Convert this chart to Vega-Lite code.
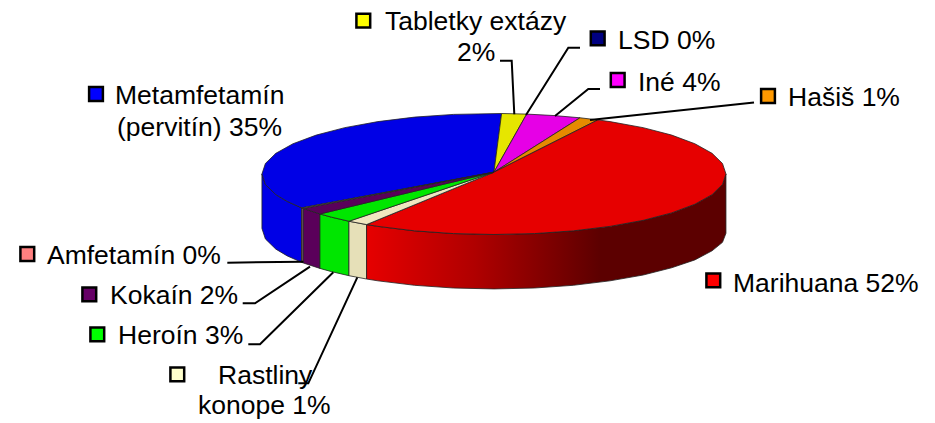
{"$schema":"https://vega.github.io/schema/vega-lite/v6.json","width":935,"height":423,"padding":0,"autosize":"none","background":"white","view":{"stroke":null},
"datasets":{
"top":[
{"s":"Metamfetamín","o":0,"u":0,"v":0.03},{"s":"Metamfetamín","o":1,"u":-0.829,"v":-0.56},{"s":"Metamfetamín","o":2,"u":-0.891,"v":-0.454},{"s":"Metamfetamín","o":3,"u":-0.94,"v":-0.342},{"s":"Metamfetamín","o":4,"u":-0.985,"v":-0.174},{"s":"Metamfetamín","o":5,"u":-1,"v":0},{"s":"Metamfetamín","o":6,"u":-0.985,"v":0.174},{"s":"Metamfetamín","o":7,"u":-0.94,"v":0.342},{"s":"Metamfetamín","o":8,"u":-0.866,"v":0.5},{"s":"Metamfetamín","o":9,"u":-0.766,"v":0.643},{"s":"Metamfetamín","o":10,"u":-0.643,"v":0.766},{"s":"Metamfetamín","o":11,"u":-0.5,"v":0.866},{"s":"Metamfetamín","o":12,"u":-0.342,"v":0.94},{"s":"Metamfetamín","o":13,"u":-0.174,"v":0.985},{"s":"Metamfetamín","o":14,"u":0.033,"v":1},{"s":"Metamfetamín","o":15,"u":0,"v":0.03},
{"s":"Tabletky","o":0,"u":0,"v":0.03},{"s":"Tabletky","o":1,"u":0.033,"v":1},{"s":"Tabletky","o":2,"u":0.141,"v":0.99},{"s":"Tabletky","o":3,"u":0,"v":0.03},
{"s":"Iné","o":0,"u":0,"v":0.03},{"s":"Iné","o":1,"u":0.141,"v":0.99},{"s":"Iné","o":2,"u":0.259,"v":0.966},{"s":"Iné","o":3,"u":0.371,"v":0.929},{"s":"Iné","o":4,"u":0,"v":0.03},
{"s":"Hašiš","o":0,"u":0,"v":0.03},{"s":"Hašiš","o":1,"u":0.371,"v":0.929},{"s":"Hašiš","o":2,"u":0.448,"v":0.894},{"s":"Hašiš","o":3,"u":0,"v":0.03},
{"s":"Marihuana","o":0,"u":0,"v":0.03},{"s":"Marihuana","o":1,"u":0.448,"v":0.894},{"s":"Marihuana","o":2,"u":0.5,"v":0.866},{"s":"Marihuana","o":3,"u":0.643,"v":0.766},{"s":"Marihuana","o":4,"u":0.766,"v":0.643},{"s":"Marihuana","o":5,"u":0.866,"v":0.5},{"s":"Marihuana","o":6,"u":0.94,"v":0.342},{"s":"Marihuana","o":7,"u":0.985,"v":0.174},{"s":"Marihuana","o":8,"u":1,"v":0},{"s":"Marihuana","o":9,"u":0.985,"v":-0.174},{"s":"Marihuana","o":10,"u":0.94,"v":-0.342},{"s":"Marihuana","o":11,"u":0.866,"v":-0.5},{"s":"Marihuana","o":12,"u":0.766,"v":-0.643},{"s":"Marihuana","o":13,"u":0.643,"v":-0.766},{"s":"Marihuana","o":14,"u":0.5,"v":-0.866},{"s":"Marihuana","o":15,"u":0.342,"v":-0.94},{"s":"Marihuana","o":16,"u":0.174,"v":-0.985},{"s":"Marihuana","o":17,"u":0,"v":-1},{"s":"Marihuana","o":18,"u":-0.174,"v":-0.985},{"s":"Marihuana","o":19,"u":-0.342,"v":-0.94},{"s":"Marihuana","o":20,"u":-0.5,"v":-0.866},{"s":"Marihuana","o":21,"u":-0.549,"v":-0.836},{"s":"Marihuana","o":22,"u":0,"v":0.03},
{"s":"Rastliny","o":0,"u":0,"v":0.03},{"s":"Rastliny","o":1,"u":-0.549,"v":-0.836},{"s":"Rastliny","o":2,"u":-0.625,"v":-0.781},{"s":"Rastliny","o":3,"u":0,"v":0.03},
{"s":"Heroín","o":0,"u":0,"v":0.03},{"s":"Heroín","o":1,"u":-0.625,"v":-0.781},{"s":"Heroín","o":2,"u":-0.7,"v":-0.714},{"s":"Heroín","o":3,"u":-0.75,"v":-0.661},{"s":"Heroín","o":4,"u":0,"v":0.03},
{"s":"Kokaín","o":0,"u":0,"v":0.03},{"s":"Kokaín","o":1,"u":-0.75,"v":-0.661},{"s":"Kokaín","o":2,"u":-0.822,"v":-0.57},{"s":"Kokaín","o":3,"u":0,"v":0.03},
{"s":"Amfetamín","o":0,"u":0,"v":0.03},{"s":"Amfetamín","o":1,"u":-0.822,"v":-0.57},{"s":"Amfetamín","o":2,"u":-0.829,"v":-0.56},{"s":"Amfetamín","o":3,"u":0,"v":0.03}
],
"walls":[
{"s":"Metamfetamín","o":0,"u":-1,"v":0},{"s":"Metamfetamín","o":1,"u":-0.985,"v":-0.174},{"s":"Metamfetamín","o":2,"u":-0.94,"v":-0.342},{"s":"Metamfetamín","o":3,"u":-0.891,"v":-0.454},{"s":"Metamfetamín","o":4,"u":-0.829,"v":-0.56},{"s":"Metamfetamín","o":5,"u":-0.829,"v":-1.46},{"s":"Metamfetamín","o":6,"u":-0.891,"v":-1.354},{"s":"Metamfetamín","o":7,"u":-0.94,"v":-1.242},{"s":"Metamfetamín","o":8,"u":-0.985,"v":-1.074},{"s":"Metamfetamín","o":9,"u":-1,"v":-0.9},{"s":"Metamfetamín","o":10,"u":-1,"v":0},
{"s":"Amfetamín","o":0,"u":-0.829,"v":-0.56},{"s":"Amfetamín","o":1,"u":-0.822,"v":-0.57},{"s":"Amfetamín","o":2,"u":-0.822,"v":-1.47},{"s":"Amfetamín","o":3,"u":-0.829,"v":-1.46},{"s":"Amfetamín","o":4,"u":-0.829,"v":-0.56},
{"s":"Kokaín","o":0,"u":-0.822,"v":-0.57},{"s":"Kokaín","o":1,"u":-0.75,"v":-0.661},{"s":"Kokaín","o":2,"u":-0.75,"v":-1.561},{"s":"Kokaín","o":3,"u":-0.822,"v":-1.47},{"s":"Kokaín","o":4,"u":-0.822,"v":-0.57},
{"s":"Heroín","o":0,"u":-0.75,"v":-0.661},{"s":"Heroín","o":1,"u":-0.7,"v":-0.714},{"s":"Heroín","o":2,"u":-0.625,"v":-0.781},{"s":"Heroín","o":3,"u":-0.625,"v":-1.681},{"s":"Heroín","o":4,"u":-0.7,"v":-1.614},{"s":"Heroín","o":5,"u":-0.75,"v":-1.561},{"s":"Heroín","o":6,"u":-0.75,"v":-0.661},
{"s":"Rastliny","o":0,"u":-0.625,"v":-0.781},{"s":"Rastliny","o":1,"u":-0.549,"v":-0.836},{"s":"Rastliny","o":2,"u":-0.549,"v":-1.736},{"s":"Rastliny","o":3,"u":-0.625,"v":-1.681},{"s":"Rastliny","o":4,"u":-0.625,"v":-0.781}
],
"redwall":[
{"o":0,"u":-0.549,"v":-0.836},{"o":1,"u":-0.5,"v":-0.866},{"o":2,"u":-0.342,"v":-0.94},{"o":3,"u":-0.174,"v":-0.985},{"o":4,"u":0,"v":-1},{"o":5,"u":0.174,"v":-0.985},{"o":6,"u":0.342,"v":-0.94},{"o":7,"u":0.5,"v":-0.866},{"o":8,"u":0.643,"v":-0.766},{"o":9,"u":0.766,"v":-0.643},{"o":10,"u":0.866,"v":-0.5},{"o":11,"u":0.94,"v":-0.342},{"o":12,"u":0.985,"v":-0.174},{"o":13,"u":1,"v":0},{"o":14,"u":1,"v":-0.98},{"o":15,"u":0.985,"v":-1.13},{"o":16,"u":0.94,"v":-1.27},{"o":17,"u":0.866,"v":-1.42},{"o":18,"u":0.766,"v":-1.55},{"o":19,"u":0.643,"v":-1.67},{"o":20,"u":0.5,"v":-1.766},{"o":21,"u":0.342,"v":-1.84},{"o":22,"u":0.174,"v":-1.885},{"o":23,"u":0,"v":-1.9},{"o":24,"u":-0.174,"v":-1.885},{"o":25,"u":-0.342,"v":-1.84},{"o":26,"u":-0.5,"v":-1.766},{"o":27,"u":-0.549,"v":-1.736},{"o":28,"u":-0.549,"v":-0.836}
],
"leaders":[
{"s":"Tabletky","o":0,"x":500,"y":60.7},{"s":"Tabletky","o":1,"x":511.7,"y":60.7},{"s":"Tabletky","o":2,"x":514.3,"y":114.3},
{"s":"LSD","o":0,"x":580,"y":47.7},{"s":"LSD","o":1,"x":568.3,"y":47.7},{"s":"LSD","o":2,"x":526,"y":115},
{"s":"Iné","o":0,"x":600,"y":89},{"s":"Iné","o":1,"x":588.3,"y":89},{"s":"Iné","o":2,"x":555,"y":116},
{"s":"Hašiš","o":0,"x":754,"y":102.5},{"s":"Hašiš","o":1,"x":590,"y":120},
{"s":"Amfetamín","o":0,"x":227.3,"y":262.7},{"s":"Amfetamín","o":1,"x":303.3,"y":261.7},
{"s":"Kokaín","o":0,"x":242.7,"y":303.3},{"s":"Kokaín","o":1,"x":255,"y":303.3},{"s":"Kokaín","o":2,"x":310,"y":266.7},
{"s":"Heroín","o":0,"x":248.3,"y":344.3},{"s":"Heroín","o":1,"x":260,"y":344.3},{"s":"Heroín","o":2,"x":333.3,"y":272.3},
{"s":"Rastliny","o":0,"x":298.3,"y":383.3},{"s":"Rastliny","o":1,"x":308.3,"y":383.3},{"s":"Rastliny","o":2,"x":357.3,"y":277.3}
],
"swatches":[
{"s":"Tabletky extázy","c":"#ffff00","x":363.3,"y":20.7},{"s":"LSD","c":"#000080","x":597.7,"y":38.3},{"s":"Iné","c":"#ff00ff","x":617.7,"y":80},{"s":"Hašiš","c":"#ff9900","x":768,"y":96},{"s":"Metamfetamín","c":"#0000ff","x":96,"y":94},{"s":"Marihuana","c":"#ff0000","x":713.3,"y":280.3},{"s":"Amfetamín","c":"#ff8080","x":27.3,"y":254},{"s":"Kokaín","c":"#660066","x":89.3,"y":294.3},{"s":"Heroín","c":"#00ff00","x":97.3,"y":334.3},{"s":"Rastliny konope","c":"#ffffcc","x":177.3,"y":374.3}
],
"labels":[
{"t":"Tabletky extázy","x":385,"y":30},{"t":"2%","x":457,"y":61},{"t":"LSD 0%","x":618,"y":49},{"t":"Iné 4%","x":638,"y":91},{"t":"Hašiš 1%","x":788,"y":106},{"t":"Metamfetamín","x":115,"y":104},{"t":"(pervitín) 35%","x":117,"y":136},{"t":"Marihuana 52%","x":733,"y":292},{"t":"Amfetamín 0%","x":47,"y":264},{"t":"Kokaín 2%","x":110,"y":304},{"t":"Heroín 3%","x":118,"y":344},{"t":"Rastliny","x":218,"y":384},{"t":"konope 1%","x":198,"y":414}
]},
"resolve":{"scale":{"x":"independent","y":"independent","fill":"independent"}},
"layer":[
{"data":{"name":"walls"},"mark":{"type":"line","stroke":"#222","strokeWidth":0.8},"encoding":{
"x":{"field":"u","type":"quantitative","axis":null,"scale":{"domain":[-2.129,1.901],"nice":false,"zero":false}},
"y":{"field":"v","type":"quantitative","axis":null,"scale":{"domain":[-4.116,2.876],"nice":false,"zero":false}},
"detail":{"field":"s"},"order":{"field":"o","type":"quantitative"},
"fill":{"field":"s","type":"nominal","legend":null,"scale":{"domain":["Metamfetamín","Amfetamín","Kokaín","Heroín","Rastliny"],"range":["#0000e6","#8a6a70","#5a005a","#00e600","#e6e0b8"]}}}},
{"data":{"name":"redwall"},"mark":{"type":"line","stroke":"#222","strokeWidth":0.8,"fill":{"gradient":"linear","x1":0,"y1":0,"x2":1,"y2":0,"stops":[{"offset":0,"color":"#e60000"},{"offset":0.3,"color":"#b00000"},{"offset":0.65,"color":"#5c0000"},{"offset":1,"color":"#5c0000"}]}},"encoding":{
"x":{"field":"u","type":"quantitative","axis":null,"scale":{"domain":[-2.129,1.901],"nice":false,"zero":false}},
"y":{"field":"v","type":"quantitative","axis":null,"scale":{"domain":[-4.116,2.876],"nice":false,"zero":false}},
"order":{"field":"o","type":"quantitative"}}},
{"data":{"name":"top"},"mark":{"type":"line","stroke":"#222","strokeWidth":0.8},"encoding":{
"x":{"field":"u","type":"quantitative","axis":null,"scale":{"domain":[-2.129,1.901],"nice":false,"zero":false}},
"y":{"field":"v","type":"quantitative","axis":null,"scale":{"domain":[-4.116,2.876],"nice":false,"zero":false}},
"detail":{"field":"s"},"order":{"field":"o","type":"quantitative"},
"fill":{"field":"s","type":"nominal","legend":null,"scale":{"domain":["Metamfetamín","Tabletky","Iné","Hašiš","Marihuana","Rastliny","Heroín","Kokaín","Amfetamín"],"range":["#0000e6","#e6e600","#e600e6","#e68a00","#e60000","#f0e6c0","#00e600","#5a005a","#8a6a70"]}}}},
{"data":{"name":"leaders"},"mark":{"type":"line","color":"#000","strokeWidth":2},"encoding":{
"x":{"field":"x","type":"quantitative","axis":null,"scale":{"domain":[0,935],"nice":false,"zero":false}},
"y":{"field":"y","type":"quantitative","axis":null,"scale":{"domain":[423,0],"nice":false,"zero":false}},
"detail":{"field":"s"},"order":{"field":"o","type":"quantitative"}}},
{"data":{"name":"swatches"},"mark":{"type":"point","shape":"square","filled":true,"opacity":1,"stroke":"#000","strokeWidth":2.5,"size":190},"encoding":{
"x":{"field":"x","type":"quantitative","axis":null,"scale":{"domain":[0,935],"nice":false,"zero":false}},
"y":{"field":"y","type":"quantitative","axis":null,"scale":{"domain":[423,0],"nice":false,"zero":false}},
"fill":{"field":"c","type":"nominal","scale":null}}},
{"data":{"name":"labels"},"mark":{"type":"text","font":"Liberation Sans","fontSize":26.5,"align":"left","baseline":"alphabetic","color":"#000"},"encoding":{
"x":{"field":"x","type":"quantitative","axis":null,"scale":{"domain":[0,935],"nice":false,"zero":false}},
"y":{"field":"y","type":"quantitative","axis":null,"scale":{"domain":[423,0],"nice":false,"zero":false}},
"text":{"field":"t"}}}
]}
